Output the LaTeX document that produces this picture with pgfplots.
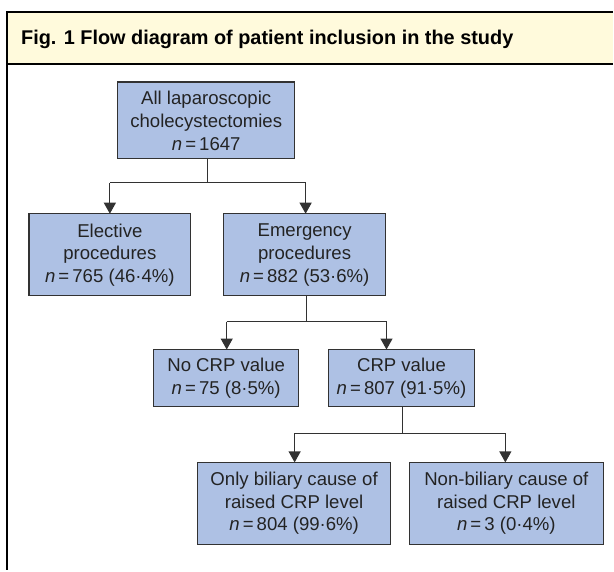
\documentclass[border=0pt]{standalone}
\usepackage{pgfplots}
\pgfplotsset{compat=1.18}
\usepackage{fontspec}
\setmainfont{Liberation Sans}
\usetikzlibrary{arrows.meta}
\definecolor{boxblue}{RGB}{174,193,228}
\definecolor{band}{RGB}{255,250,220}
\definecolor{edge}{RGB}{50,50,50}
\definecolor{txt}{RGB}{35,35,35}
\newcommand{\flowbox}[4]{\addplot[fill=boxblue,draw=edge,line width=1.3pt] coordinates {(#1,#2) (#3,#2) (#3,#4) (#1,#4)} --cycle;}
\newcommand{\boxtext}[3]{\node[align=center,font=\fontsize{18.6}{22.8}\selectfont,text=txt,inner sep=0pt] at (axis cs:#1,#2) {#3};}
\begin{document}
\begin{tikzpicture}
\begin{axis}[width=614pt,height=571pt,scale only axis,xmin=0,xmax=614,ymin=0,ymax=571,
  y dir=reverse,hide axis,clip=false]
% full page extent
\addplot[draw=none,mark=none] coordinates {(0,0) (614,571)};
% title band and frame
\addplot[fill=band,draw=none] coordinates {(7,12) (614,12) (614,64) (7,64)} --cycle;
\addplot[black,line width=1.6pt] coordinates {(614,12) (7,12) (7,571)};
\addplot[black,line width=1.3pt] coordinates {(7,64) (614,64)};
\node[anchor=base west,font=\fontsize{19.9}{22}\selectfont\bfseries,inner sep=0pt] at (axis cs:21,44.5) {Fig. 1 Flow diagram of patient inclusion in the study};
% connectors
\addplot[edge,line width=1.2pt] coordinates {(208,159) (208,183)};
\addplot[edge,line width=1.2pt] coordinates {(110,183) (306,183)};
\addplot[edge,line width=1.2pt,-{Triangle[width=12pt,length=11pt]}] coordinates {(110,183) (110,214)};
\addplot[edge,line width=1.2pt,-{Triangle[width=12pt,length=11pt]}] coordinates {(306,183) (306,214)};
\addplot[edge,line width=1.2pt] coordinates {(307,296) (307,322)};
\addplot[edge,line width=1.2pt] coordinates {(227,322) (387,322)};
\addplot[edge,line width=1.2pt,-{Triangle[width=12pt,length=11pt]}] coordinates {(227,322) (227,350)};
\addplot[edge,line width=1.2pt,-{Triangle[width=12pt,length=11pt]}] coordinates {(387,322) (387,350)};
\addplot[edge,line width=1.2pt] coordinates {(403,407) (403,434)};
\addplot[edge,line width=1.2pt] coordinates {(295,434) (506,434)};
\addplot[edge,line width=1.2pt,-{Triangle[width=12pt,length=11pt]}] coordinates {(295,434) (295,463)};
\addplot[edge,line width=1.2pt,-{Triangle[width=12pt,length=11pt]}] coordinates {(506,434) (506,463)};
% boxes
\flowbox{118}{82}{295}{159}
\flowbox{29}{214}{191}{296}
\flowbox{224}{214}{386}{296}
\flowbox{154}{350}{299}{407}
\flowbox{329}{350}{475}{407}
\flowbox{198}{463}{391}{545}
\flowbox{410}{463}{604}{545}
% texts
\boxtext{206.5}{121}{All laparoscopic\\cholecystectomies\\\textit{n}\,=\,1647}
\boxtext{110}{255.5}{Elective\\procedures\\\textit{n}\,=\,765 (46·4\%)}
\boxtext{305}{255.5}{Emergency\\procedures\\\textit{n}\,=\,882 (53·6\%)}
\boxtext{226.5}{379}{No CRP value\\\textit{n}\,=\,75 (8·5\%)}
\boxtext{402}{379}{CRP value\\\textit{n}\,=\,807 (91·5\%)}
\boxtext{294.5}{504}{Only biliary cause of\\raised CRP level\\\textit{n}\,=\,804 (99·6\%)}
\boxtext{507}{504}{Non-biliary cause of\\raised CRP level\\\textit{n}\,=\,3 (0·4\%)}
\end{axis}
\end{tikzpicture}
\end{document}
